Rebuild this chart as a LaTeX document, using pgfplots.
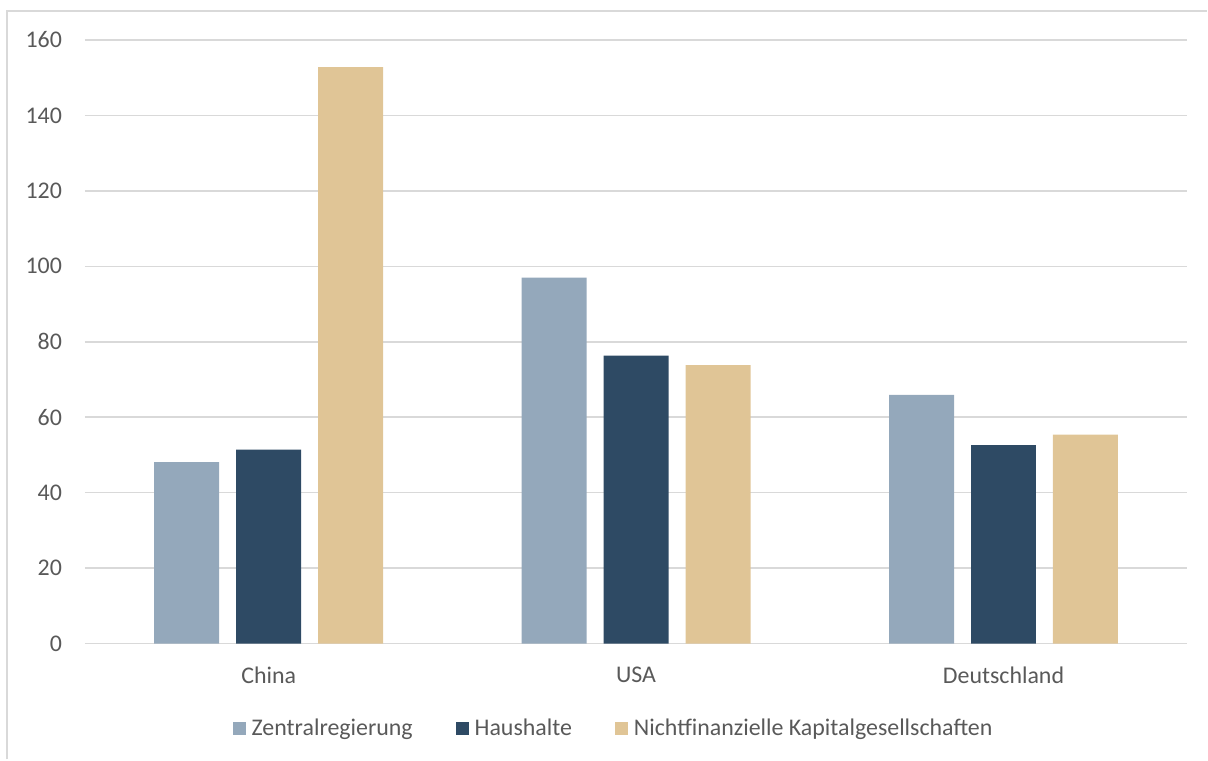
\documentclass[border=0pt]{standalone}
\usepackage{pgfplots}
\pgfplotsset{compat=1.18}
\usepackage{fontspec}
\setmainfont{Carlito}
\definecolor{zentral}{RGB}{148,168,187}
\definecolor{haushalt}{RGB}{46,74,100}
\definecolor{nichtfin}{RGB}{224,197,150}
\definecolor{gridgray}{RGB}{217,217,217}
\definecolor{textgray}{RGB}{89,89,89}
\begin{document}
\begin{tikzpicture}
  % page = 1208x760 px, 1 px = 0.5 bp
  \path (0,0) rectangle (604bp,380bp);
  \draw[gridgray, line width=0.8bp] (3.5bp,0) -- (3.5bp,374.5bp) -- (604bp,374.5bp);
  \begin{axis}[
      at={(42.5bp,58bp)}, anchor=south west,
      scale only axis,
      width=551.5bp, height=302bp,
      ybar=8.5bp, bar width=32.5bp,
      xmin=-0.5, xmax=2.5,
      ymin=0, ymax=160,
      xtick=data,
      xticklabels={China, USA, Deutschland},
      ytick={0,20,...,160},
      axis line style={draw=none},
      major tick length=0pt,
      ymajorgrids,
      grid style={draw=gridgray, line width=0.8bp},
      tick label style={font=\fontsize{12}{14}\selectfont, text=textgray},
      /pgf/number format/assume math mode=true,
      yticklabel style={xshift=-8bp},
      xticklabel style={yshift=-8bp},
      legend columns=3,
      legend style={at={(0.4805,-0.1407)}, anchor=center, draw=none, fill=none,
        font=\fontsize{12}{14}\selectfont, text=textgray,
        inner sep=0pt,
        /tikz/every even column/.append style={column sep=19.5bp}},
      legend image code/.code={\fill[#1] (0bp,-3.25bp) rectangle (6.5bp,3.25bp);
        \path (7.5bp,0);},
      legend cell align=left,
    ]
    \addplot[fill=zentral, draw=none] coordinates {(0,48.1) (1,97.0) (2,65.9)};
    \addlegendentry{Zentralregierung}
    \addplot[fill=haushalt, draw=none] coordinates {(0,51.4) (1,76.3) (2,52.6)};
    \addlegendentry{Haushalte}
    \addplot[fill=nichtfin, draw=none] coordinates {(0,152.8) (1,73.8) (2,55.4)};
    \addlegendentry{Nichtfinanzielle Kapitalgesellschaften}
  \end{axis}
\end{tikzpicture}
\end{document}
